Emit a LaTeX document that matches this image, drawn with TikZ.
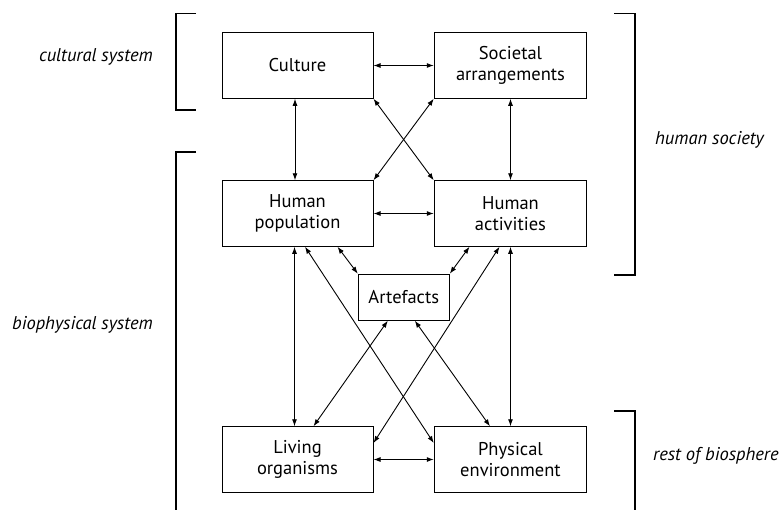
\documentclass[tikz,border=0pt]{standalone}
\usepackage{fontspec}
\setmainfont{PT Sans}
\usetikzlibrary{arrows.meta}
\begin{document}
\begin{tikzpicture}[x=1pt,y=-1pt,
  box/.style={draw,line width=1pt,inner sep=0pt,align=center,
    font=\fontsize{18.5}{20.5}\selectfont},
  bigbox/.style={box,minimum width=151pt,minimum height=65.5pt},
  link/.style={line width=0.9pt,{Latex[length=7pt,width=5pt]}-{Latex[length=7pt,width=5pt]}},
  bracket/.style={line width=1.1pt},
  tag/.style={font=\fontsize{18.5}{20}\selectfont\itshape,inner sep=0pt}]
\useasboundingbox (0,0) rectangle (782,509);

% boxes
\node[bigbox] (cul) at (297.5,65.5) {Culture};
\node[bigbox,minimum width=152.5pt] (soc) at (510.5,65.5) {Societal\\arrangements};
\node[bigbox] (hp) at (297.5,213.5) {Human\\population};
\node[bigbox,minimum width=152.5pt] (ha) at (510.5,213.5) {Human\\activities};
\node[box,minimum width=91pt,minimum height=46pt] (art) at (403.8,297.2) {Artefacts};
\node[bigbox] (lo) at (297.5,459.5) {Living\\organisms};
\node[bigbox,minimum width=152.5pt] (pe) at (510.5,459.5) {Physical\\environment};

% connectors
\draw[link] (cul.east) -- (soc.west);
\draw[link] ([xshift=-2.5]cul.south) -- ([xshift=-2.5]hp.north);
\draw[link] (soc.south) -- (ha.north);
\draw[link] (cul.south east) -- (ha.north west);
\draw[link] (soc.south west) -- (hp.north east);
\draw[link] (hp.east) -- (ha.west);
\draw[link] ([xshift=-3]hp.south) -- ([xshift=-3]lo.north);
\draw[link] (ha.south) -- (pe.north);
\draw[link] ([xshift=40]hp.south) -- (art.north west);
\draw[link] ([xshift=-41]ha.south) -- (art.north east);
\draw[link] ([xshift=7.5]hp.south) -- ([yshift=16.5]pe.west);
\draw[link] ([xshift=-11]ha.south) -- ([yshift=16.5]lo.east);
\draw[link] ([xshift=-16]art.south) -- ([xshift=16]lo.north);
\draw[link] ([xshift=11]art.south) -- ([xshift=-20.5]pe.north);
\draw[link] (lo.east) -- (pe.west);

% brackets
\draw[bracket] (196,13.3) -- (176,13.3) -- (176,110) -- (196,110);
\draw[bracket] (196,152) -- (176,152) -- (176,512);
\draw[bracket] (614,13.3) -- (635,13.3) -- (635,275) -- (614,275);
\draw[bracket] (614,411) -- (635,411) -- (635,512);

% bracket labels
\node[tag,anchor=east] (cs) at (153,57) {cultural system};
\node[tag,anchor=east] (bs) at (153,325) {biophysical system};
\node[tag,anchor=west] (hs) at (655,140) {human society};
\node[tag,anchor=west] (rb) at (653,456) {rest of biosphere};
\end{tikzpicture}
\end{document}
